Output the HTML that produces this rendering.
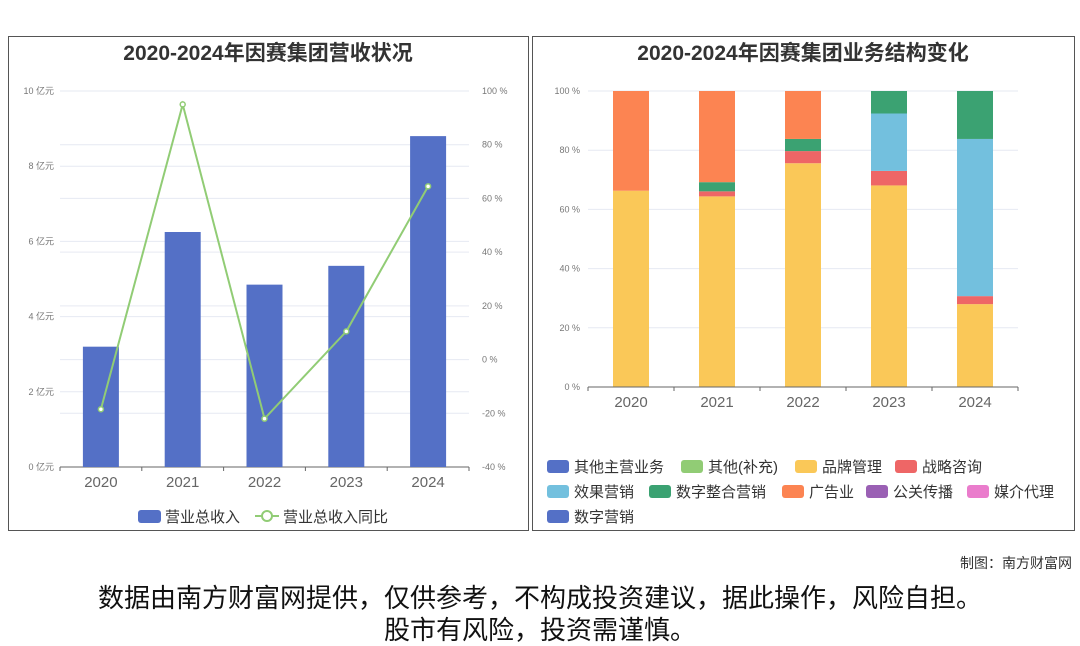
<!DOCTYPE html>
<html><head><meta charset="utf-8">
<style>
body{margin:0;width:1080px;height:646px;background:#fff;font-family:"Liberation Sans","Noto Sans CJK SC",sans-serif;overflow:hidden;position:relative}
svg text{font-family:"Liberation Sans","Noto Sans CJK SC",sans-serif}
.note{position:absolute;left:0;width:1080px;text-align:center;font-size:26px;line-height:32px;color:#111}
</style></head><body>
<svg width="1080" height="646" style="position:absolute;left:0;top:0">
<rect x="8.5" y="36.5" width="520" height="494" fill="none" stroke="#555"/>
<rect x="532.5" y="36.5" width="542" height="494" fill="none" stroke="#555"/>
<text x="268" y="60" text-anchor="middle" font-size="21" font-weight="bold" fill="#333">2020-2024年因赛集团营收状况</text>
<text x="803" y="60" text-anchor="middle" font-size="21" font-weight="bold" fill="#333">2020-2024年因赛集团业务结构变化</text>
<g id="L"></g><g id="R"></g>
<text x="1072" y="568" text-anchor="end" font-size="14" fill="#333">制图：南方财富网</text>
</svg>
<div class="note" style="top:582px">数据由南方财富网提供，仅供参考，不构成投资建议，据此操作，风险自担。</div>
<div class="note" style="top:614px">股市有风险，投资需谨慎。</div>
<script>
const years=["2020","2021","2022","2023","2024"];
const revenue=[3.2,6.25,4.85,5.35,8.8];
const growth=[-18.5,95,-22,10.5,64.5];
const leftTicks=[0,2,4,6,8,10];
const rightTicks=[-40,-20,0,20,40,60,80,100];
const brand=[66.3,64.4,75.6,68.1,28.0];
const strategy=[0,1.7,4.1,4.9,2.7];
const effect=[0,0,0,19.4,53.1];
const digitalInt=[0,3.1,4.1,7.6,16.2];
const ads=[33.7,30.8,16.2,0,0];
const pctTicks=[0,20,40,60,80,100];
const NS="http://www.w3.org/2000/svg";
function mk(p,t,a,txt){const e=document.createElementNS(NS,t);for(const k in a)e.setAttribute(k,a[k]);if(txt!==undefined)e.textContent=txt;p.appendChild(e);return e;}
// left chart
const L=document.getElementById('L');
const lx0=60,lx1=469,ly0=467,ly1=91,band=(lx1-lx0)/years.length;
const yL=v=>ly0-(v/10)*(ly0-ly1);
const yR=v=>ly0-((v+40)/140)*(ly0-ly1);
const xC=i=>lx0+band*(i+0.5);
leftTicks.forEach(t=>{let g=mk(L,'line',{x1:lx0,x2:lx1,y1:yL(t),y2:yL(t),stroke:'#e6e9f2'});
let tx=mk(L,'text',{x:54,y:yL(t)+3,'text-anchor':'end','font-size':9,fill:'#777'},t+' 亿元');});
rightTicks.forEach(t=>{let g=mk(L,'line',{x1:lx0,x2:lx1,y1:yR(t),y2:yR(t),stroke:'#e6e9f2'});
let tx=mk(L,'text',{x:482,y:yR(t)+3,'font-size':9,fill:'#777'},t+' %');});
mk(L,'line',{x1:lx0,x2:lx1,y1:ly0,y2:ly0,stroke:'#666'});
years.forEach((y,i)=>{mk(L,'line',{x1:lx0+band*i,x2:lx0+band*i,y1:ly0,y2:ly0+4,stroke:'#666'});
let tx=mk(L,'text',{x:xC(i),y:ly0+20,'text-anchor':'middle','font-size':15,fill:'#666'},y);
let b=mk(L,'rect',{x:xC(i)-18,y:yL(revenue[i]),width:36,height:ly0-yL(revenue[i]),fill:'#5470c6'});});
mk(L,'line',{x1:lx1,x2:lx1,y1:ly0,y2:ly0+4,stroke:'#666'});
let pl=mk(L,'polyline',{points:growth.map((g,i)=>xC(i)+','+yR(g)).join(' '),fill:'none',stroke:'#91cc75','stroke-width':2});

growth.forEach((g,i)=>{let c=mk(L,'circle',{cx:xC(i),cy:yR(g),r:2.5,fill:'#fff',stroke:'#91cc75','stroke-width':1.5});});
let lg=mk(L,'rect',{x:138,y:510,width:23,height:13,rx:3,fill:'#5470c6'});
mk(L,'text',{x:165,y:522,'font-size':15,fill:'#333'},'营业总收入');
mk(L,'line',{x1:255,x2:279,y1:516,y2:516,stroke:'#91cc75','stroke-width':2});
mk(L,'circle',{cx:267,cy:516,r:5,fill:'#fff',stroke:'#91cc75','stroke-width':2});
mk(L,'text',{x:283,y:522,'font-size':15,fill:'#333'},'营业总收入同比');
// right chart
const R=document.getElementById('R');
const rx0=588,rx1=1018,ry0=387,ry1=91,rb=(rx1-rx0)/years.length;
const yP=v=>ry0-(v/100)*(ry0-ry1);
const xR=i=>rx0+rb*(i+0.5);
pctTicks.forEach(t=>{mk(R,'line',{x1:rx0,x2:rx1,y1:yP(t),y2:yP(t),stroke:'#e6e9f2'});
let tx=mk(R,'text',{x:580,y:yP(t)+3,'text-anchor':'end','font-size':9,fill:'#777'},t+' %');});
const series=[[brand,'#fac858','brand'],[strategy,'#ee6666','strategy'],[effect,'#73c0de','effect'],[digitalInt,'#3ba272','digital-integration'],[ads,'#fc8452','ads']];
years.forEach((y,i)=>{let acc=0;series.forEach(s=>{const v=s[0][i];if(v>0){let r=mk(R,'rect',{x:xR(i)-18,y:yP(acc+v),width:36,height:yP(acc)-yP(acc+v),fill:s[1]});}acc+=v;});
mk(R,'line',{x1:rx0+rb*i,x2:rx0+rb*i,y1:ry0,y2:ry0+4,stroke:'#666'});
let tx=mk(R,'text',{x:xR(i),y:ry0+20,'text-anchor':'middle','font-size':15,fill:'#666'},y);});
mk(R,'line',{x1:rx0,x2:rx1,y1:ry0,y2:ry0,stroke:'#666'});
mk(R,'line',{x1:rx1,x2:rx1,y1:ry0,y2:ry0+4,stroke:'#666'});
const legend=[['其他主营业务','#5470c6',547,466],['其他(补充)','#91cc75',681,466],['品牌管理','#fac858',795,466],['战略咨询','#ee6666',895,466],
['效果营销','#73c0de',547,491],['数字整合营销','#3ba272',649,491],['广告业','#fc8452',782,491],['公关传播','#9a60b4',866,491],['媒介代理','#ea7ccc',967,491],['数字营销','#5470c6',547,516]];
legend.forEach(l=>{let r=mk(R,'rect',{x:l[2],y:l[3]-6,width:22,height:13,rx:3,fill:l[1]});
mk(R,'text',{x:l[2]+27,y:l[3]+6,'font-size':15,fill:'#333'},l[0]);});
</script>
</body></html>
